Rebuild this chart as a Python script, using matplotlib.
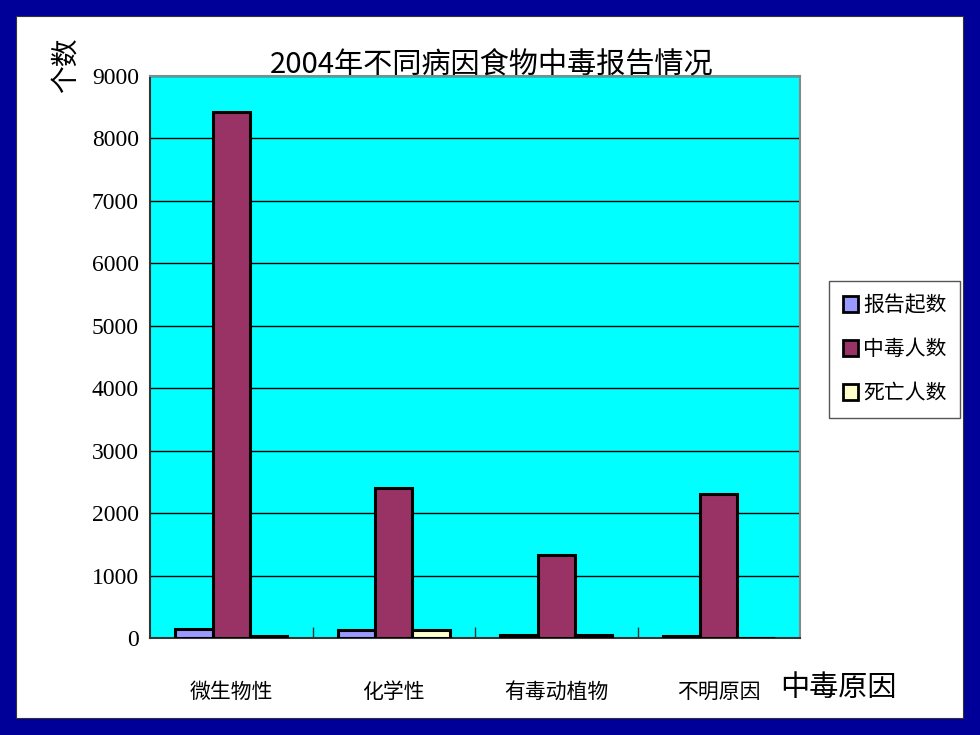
import numpy as np
import matplotlib
matplotlib.use("Agg")
import matplotlib.pyplot as plt
from matplotlib.patches import Rectangle, Patch

plt.rcParams['font.family'] = ['Noto Sans CJK SC', 'DejaVu Sans']

categories = ['微生物性', '化学性', '有毒动植物', '不明原因']
series_names = ['报告起数', '中毒人数', '死亡人数']
reports = [140, 130, 45, 35]
poisoned = [8430, 2400, 1330, 2310]
deaths = [40, 130, 45, 0]
yticks = [0, 1000, 2000, 3000, 4000, 5000, 6000, 7000, 8000, 9000]

colors = ['#9999FF', '#993366', '#FFFFCC']
W, H = 980, 735

fig = plt.figure(figsize=(W / 100, H / 100), dpi=100)
fig.patch.set_facecolor('#000099')

# white slide panel
fig.patches.append(Rectangle((16 / W, 1 - 718 / H), 947 / W, 702 / H,
                             transform=fig.transFigure, facecolor='white',
                             edgecolor='#333333', lw=0.8, zorder=-10))

ax = fig.add_axes([150 / W, 1 - 638 / H, 650 / W, 562 / H])
ax.set_facecolor('#00FFFF')

x = np.arange(len(categories))
w = 0.23
for i, (vals, name) in enumerate(zip([reports, poisoned, deaths], series_names)):
    ax.bar(x + (i - 1) * w, vals, width=w, color=colors[i], edgecolor='black',
           linewidth=2.2, label=name, zorder=3)

ax.set_xlim(-0.5, len(categories) - 0.5)
ax.set_ylim(0, 9000)
ax.set_yticks(yticks)
ax.set_yticklabels([str(v) for v in yticks], family='Liberation Serif', fontsize=17)
ax.yaxis.grid(True, color='black', linewidth=1.0, zorder=1)
ax.set_axisbelow(True)
ax.tick_params(axis='y', length=0, pad=8)

ax.set_xticks(x)
ax.set_xticklabels(categories, fontsize=15)
ax.tick_params(axis='x', which='major', length=0, pad=31)
ax.set_xticks(x[:-1] + 0.5, minor=True)
ax.tick_params(axis='x', which='minor', direction='in', length=8, width=1.0, color='#333333')

for side in ['top', 'right']:
    ax.spines[side].set_color('#888888')
    ax.spines[side].set_linewidth(1.5)
for side in ['left', 'bottom']:
    ax.spines[side].set_color('#333333')
    ax.spines[side].set_linewidth(1.5)

fig.text(492 / W, 1 - 66 / H, '2004年不同病因食物中毒报告情况', ha='center', va='center',
         fontsize=21, family=['Noto Sans CJK SC', 'DejaVu Sans'])
fig.text(66 / W, 1 - 65 / H, '个数', ha='center', va='center', rotation=90, fontsize=20)
fig.text(838 / W, 1 - 688 / H, '中毒原因', ha='center', va='center', fontsize=21)

handles = [Patch(facecolor=c, edgecolor='black', linewidth=2) for c in colors]
leg = fig.legend(handles, series_names, loc='upper left',
                 bbox_to_anchor=(829 / W, 1 - 281 / H), fontsize=15,
                 handlelength=0.75, handleheight=0.8, handletextpad=0.25,
                 labelspacing=1.05, borderpad=0.65, borderaxespad=0, fancybox=False,
                 framealpha=1, edgecolor='#555555')
leg.get_frame().set_linewidth(1.0)

fig.savefig('out.png', dpi=100, facecolor=fig.get_facecolor())
